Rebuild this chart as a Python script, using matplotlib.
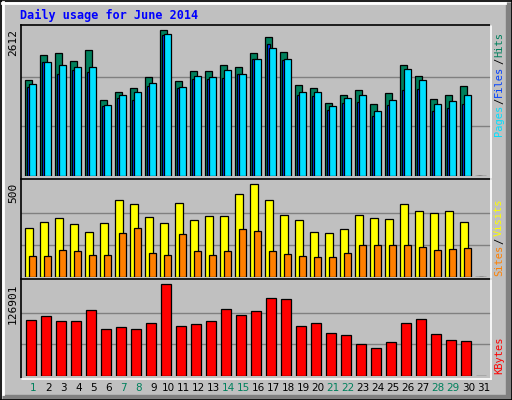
import matplotlib
matplotlib.use("Agg")
import matplotlib.pyplot as plt
from matplotlib.lines import Line2D
from matplotlib.patches import Rectangle
import numpy as np

days = list(range(1, 32))
weekend = [1, 7, 8, 14, 15, 21, 22, 28, 29]
hits = [1684, 2119, 2154, 2015, 2206, 1335, 1480, 1544, 1736, 2554, 1666, 1840, 1840, 1945, 1910, 2154,
        2432, 2171, 1596, 1544, 1283, 1422, 1509, 1266, 1457, 1945, 1753, 1353, 1422, 1579, 0]
files = [1614, 1997, 1945, 1910, 1910, 1248, 1422, 1474, 1631, 2484, 1562, 1753, 1736, 1858, 1788, 2049,
         2241, 2049, 1474, 1474, 1231, 1370, 1422, 1144, 1335, 1875, 1684, 1266, 1318, 1422, 0]
pages = [1562, 1997, 1788, 1858, 1823, 1231, 1370, 1335, 1579, 2467, 1544, 1701, 1701, 1719, 1788, 2049,
         2310, 2032, 1422, 1405, 1161, 1283, 1300, 1057, 1248, 1509, 1527, 1144, 1196, 1266, 0]
visits = [252, 283, 304, 273, 231, 278, 398, 377, 309, 278, 382, 293, 314, 314, 429, 481,
          398, 319, 293, 231, 226, 247, 319, 304, 299, 377, 340, 330, 340, 283, 0]
sites = [106, 106, 137, 132, 111, 111, 226, 252, 122, 111, 220, 132, 111, 132, 247, 236,
         132, 116, 106, 101, 101, 122, 163, 163, 163, 163, 153, 137, 142, 148, 0]
kbytes = [75042, 80500, 73678, 73678, 88686, 62762, 65491, 62762, 70948, 124160, 66856, 69584, 73678,
          90050, 81864, 87322, 105058, 103694, 66856, 70948, 57305, 54576, 42296, 36839, 45025,
          70948, 76406, 55940, 47754, 46390, 0]
max_hits = 2612
max_visits = 500
max_kb = 126901

W, H = 512, 400
BG = "#C0C0C0"
fig = plt.figure(figsize=(W / 100, H / 100), dpi=100, facecolor=BG)
mono = "DejaVu Sans Mono"

def fx(px): return px / W
def fy(py): return 1 - py / H

X0, X1 = 20.7, 491.0
SLOT = 15.0
xl = ((X0 - 25.3) / SLOT, (X1 - 25.3) / SLOT)
x = np.arange(len(days))

def panel(y0, y1, ymax, frac=1.0):
    ax = fig.add_axes([fx(X0), fy(y1), fx(X1 - X0), (y1 - y0) / H])
    ax.set_facecolor(BG)
    ax.set_xlim(*xl)
    ax.set_ylim(0, ymax * frac)
    for s in ax.spines.values():
        s.set_visible(False)
    ax.set_xticks([]); ax.set_yticks([])
    for k in (1, 2):
        ax.axhline(ymax * k / 3, color="#808080", lw=1, zorder=0)
    return ax

kw = dict(align="edge", edgecolor="black", linewidth=0.9)
ax1 = panel(25, 176.5, max_hits, 1.01)
ax1.bar(x, hits, width=7 / SLOT, color="#00805C", **kw)
ax1.bar(x + 2 / SLOT, pages, width=3 / SLOT, color="#0040FF", **kw)
ax1.bar(x + 4 / SLOT, files, width=7 / SLOT, color="#00E0FF", **kw)

ax2 = panel(180.5, 276.7, max_visits, 1.0)
ax2.bar(x, visits, width=8 / SLOT, color="#FFFF00", **kw)
ax2.bar(x + 4 / SLOT, sites, width=7 / SLOT, color="#FF8000", **kw)

ax3 = panel(280.5, 375.5, max_kb, 1.013)
ax3.bar(x + 1 / SLOT, kbytes, width=10 / SLOT, color="#FF0000", **kw)

def fl(xs, ys, c, lw=1.2):
    fig.add_artist(Line2D([fx(v) for v in xs], [fy(v) for v in ys], color=c, lw=lw))
fl([X0, X1], [25, 25], "black")
fl([X0, X0], [25, 378.5], "black")
fl([X0, X1], [178.5, 178.5], "black")
fl([X0, X1], [278.5, 278.5], "black")
fl([X1, X1], [25, 378.5], "white")
fl([X0, X1], [378.5, 378.5], "white")
fl([0.5, 511.5], [0.5, 0.5], "black"); fl([0.5, 0.5], [0.5, 399.5], "black")
fl([2, 505], [2.5, 2.5], "white", 2); fl([2.5, 2.5], [2, 394], "white", 2)
fig.add_artist(Rectangle((fx(506), fy(399)), fx(5.5), fy(3) - fy(399), transform=fig.transFigure, color="#808080"))
fig.add_artist(Rectangle((fx(3), fy(399)), fx(508), fy(395) - fy(399), transform=fig.transFigure, color="#808080"))
fl([511.5, 511.5], [0, 400], "black"); fl([0, 512], [399.5, 399.5], "black")

fig.text(fx(20), fy(15), "Daily usage for June 2014", family=mono, weight="bold",
         size=8.5, color="#0000FF", va="center", ha="left")

for val, ypx in ((str(max_hits), 29), (str(max_visits), 183), (str(max_kb), 283)):
    fig.text(fx(13), fy(ypx), val, family=mono, size=8, rotation=90, ha="center", va="top")

for d in days:
    fig.text(fx(25.3 + 8 + SLOT * (d - 1)), fy(388), str(d), size=7.5, family="DejaVu Sans",
             ha="center", va="center", color="#00805C" if d in weekend else "black")

def vlabel(parts, ybottom):
    y = ybottom
    for t, c in parts:
        n = len(t)
        fig.text(fx(499), fy(y - n * 6.6 / 2), t, family=mono, size=7.5, rotation=90,
                 ha="center", va="center", color=c)
        y -= n * 6.6
vlabel([("Pages", "#00E0FF"), ("/", "black"), ("Files", "#0040FF"), ("/", "black"), ("Hits", "#00805C")], 137)
vlabel([("Sites", "#FF8000"), ("/", "black"), ("Visits", "#FFFF00")], 277)
vlabel([("KBytes", "#FF0000")], 375)

fig.savefig("out.png", dpi=100, facecolor=BG)
